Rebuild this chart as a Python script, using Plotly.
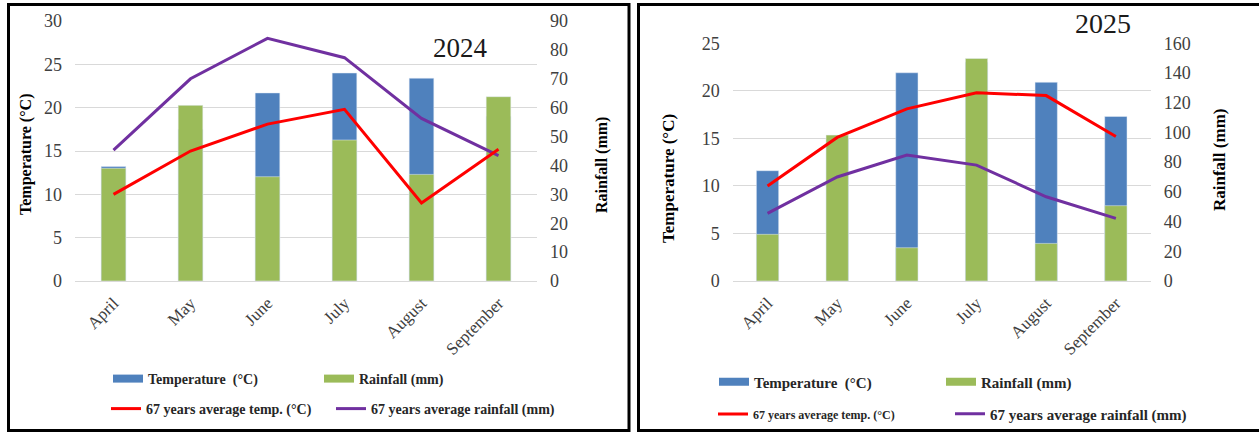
import plotly.graph_objects as go

W, H = 1259, 433

months = ["April", "May", "June", "July", "August", "September"]

# 2024 season
temp_2024 = [13.2, 17.5, 21.7, 24.0, 23.4, 19.0]
rain_2024 = [39.0, 60.8, 36.1, 48.8, 36.9, 63.8]
avg_temp_2024 = [10.0, 15.0, 18.1, 19.8, 9.0, 15.2]
avg_rain_2024 = [45.3, 70.0, 84.0, 77.3, 56.3, 43.4]

# 2025 season
temp_2025 = [11.6, 15.0, 21.9, 23.0, 20.9, 17.3]
rain_2025 = [31.4, 98.2, 22.4, 149.8, 25.3, 50.7]
avg_temp_2025 = [10.0, 15.1, 18.1, 19.8, 19.5, 15.2]
avg_rain_2025 = [45.5, 70.0, 84.8, 78.0, 56.7, 42.2]

BLUE = "#4F81BD"
GREEN = "#9BBB59"
RED = "#FF0000"
PURPLE = "#7030A0"
SERIF = "Liberation Serif"
TICK_COLOR = "#404040"
GRID = "#D9D9D9"


def px_x(x):
    return x / W


def px_y(y):
    return 1 - y / H


fig = go.Figure()


def add_panel(xa, ya_left, ya_right, ya_line, temp, rain, avg_t, avg_r, legends):
    fig.add_trace(go.Bar(x=months, y=temp, marker_color=BLUE, width=0.32,
                         xaxis=xa, yaxis=ya_left, showlegend=False,
                         name="Temperature (°C)"))
    fig.add_trace(go.Bar(x=months, y=rain, marker_color=GREEN, width=0.32,
                         xaxis=xa, yaxis=ya_right, showlegend=False,
                         name="Rainfall (mm)"))
    fig.add_trace(go.Scatter(x=months, y=avg_r, mode="lines",
                             line=dict(color=PURPLE, width=3),
                             xaxis=xa, yaxis=ya_right,
                             name="67 years average rainfall (mm)",
                             legend=legends[3]))
    fig.add_trace(go.Scatter(x=months, y=avg_t, mode="lines",
                             line=dict(color=RED, width=3),
                             xaxis=xa, yaxis=ya_line,
                             name="67 years average temp. (°C)",
                             legend=legends[2]))
    # legend keys for the bar series
    fig.add_trace(go.Scatter(x=[None], y=[None], mode="lines",
                             line=dict(color=BLUE, width=8),
                             xaxis=xa, yaxis=ya_left,
                             name="Temperature  (°C)", legend=legends[0]))
    fig.add_trace(go.Scatter(x=[None], y=[None], mode="lines",
                             line=dict(color=GREEN, width=8),
                             xaxis=xa, yaxis=ya_left,
                             name="Rainfall (mm)", legend=legends[1]))


add_panel("x", "y", "y2", "y3", temp_2024, rain_2024, avg_temp_2024, avg_rain_2024,
          ["legend", "legend2", "legend3", "legend4"])
add_panel("x2", "y4", "y5", "y6", temp_2025, rain_2025, avg_temp_2025, avg_rain_2025,
          ["legend5", "legend6", "legend7", "legend8"])

tick_font = dict(family=SERIF, size=18, color=TICK_COLOR)
month_font = dict(family=SERIF, size=17, color=TICK_COLOR)

xcommon = dict(type="category", tickangle=-45, showgrid=False, showline=False,
               zeroline=False, tickfont=month_font, ticks="", fixedrange=True,
               ticklabelstandoff=8)
left_common = dict(showgrid=True, gridcolor=GRID, gridwidth=1, zeroline=True,
                   zerolinecolor=GRID, zerolinewidth=1, showline=False,
                   tickfont=tick_font, ticks="", ticklabelstandoff=12)
right_common = dict(showgrid=False, zeroline=False, showline=False, side="right",
                    tickfont=tick_font, ticks="", ticklabelstandoff=12)

d1x = [px_x(75), px_x(537)]
d1y = [px_y(281), px_y(21)]
d2x = [px_x(732.7), px_x(1150.7)]
d2y = [px_y(281), px_y(43.3)]

fig.update_layout(
    width=W, height=H,
    margin=dict(l=0, r=0, t=0, b=0, autoexpand=False),
    paper_bgcolor="white", plot_bgcolor="white",
    barmode="overlay",
    xaxis=dict(domain=d1x, anchor="y", **xcommon),
    yaxis=dict(domain=d1y, anchor="x", range=[0, 30], dtick=5, **left_common),
    yaxis2=dict(overlaying="y", anchor="x", range=[0, 90], dtick=10, **right_common),
    yaxis3=dict(overlaying="y", anchor="x", range=[0, 30], visible=False),
    xaxis2=dict(domain=d2x, anchor="y4", **xcommon),
    yaxis4=dict(domain=d2y, anchor="x2", range=[0, 25], dtick=5, **left_common),
    yaxis5=dict(overlaying="y4", anchor="x2", range=[0, 160], dtick=20, **right_common),
    yaxis6=dict(overlaying="y4", anchor="x2", range=[0, 25], visible=False),
)

# one legend per entry so each key sits in its own column/row
legend_specs = {
    "legend": (113, 379, 14),
    "legend2": (324, 379, 14),
    "legend3": (111, 409, 14),
    "legend4": (336, 409, 14),
    "legend5": (719, 382, 15),
    "legend6": (946, 382, 15),
    "legend7": (718, 414, 12),
    "legend8": (955, 414, 15),
}
for key, (sx, sy, fs) in legend_specs.items():
    fig.layout[key] = dict(
        x=px_x(sx - 5), y=px_y(sy), xanchor="left", yanchor="middle",
        orientation="h", bgcolor="rgba(0,0,0,0)", borderwidth=0,
        font=dict(family=SERIF, size=fs, color="#262626", weight="bold"),
        itemclick=False, itemdoubleclick=False, tracegroupgap=0,
    )

annotations = [
    dict(text="2024", x=px_x(460), y=px_y(48), font=dict(family=SERIF, size=27, color="#1a1a1a")),
    dict(text="2025", x=px_x(1103), y=px_y(24), font=dict(family=SERIF, size=28, color="#1a1a1a")),
    dict(text="<b>Temperature (°C)</b>", x=px_x(26), y=px_y(155), textangle=-90,
         font=dict(family=SERIF, size=16, color="black")),
    dict(text="<b>Rainfall (mm)</b>", x=px_x(602), y=px_y(165), textangle=-90,
         font=dict(family=SERIF, size=16, color="black")),
    dict(text="<b>Temperature (°C)</b>", x=px_x(668), y=px_y(179), textangle=-90,
         font=dict(family=SERIF, size=17, color="black")),
    dict(text="<b>Rainfall (mm)</b>", x=px_x(1219), y=px_y(160), textangle=-90,
         font=dict(family=SERIF, size=17, color="black")),
]
for a in annotations:
    a.update(xref="paper", yref="paper", showarrow=False, xanchor="center", yanchor="middle")
fig.update_layout(annotations=annotations)

# panel frames
frames = [(8.5, 4.5, 629, 430.5), (638.5, 4.5, 1270, 430.5)]
for x0, y0, x1, y1 in frames:
    fig.add_shape(type="rect", xref="paper", yref="paper",
                  x0=px_x(x0), x1=px_x(x1), y0=px_y(y1), y1=px_y(y0),
                  line=dict(color="black", width=3), fillcolor="rgba(0,0,0,0)",
                  layer="above")

fig.write_html("out.html")
